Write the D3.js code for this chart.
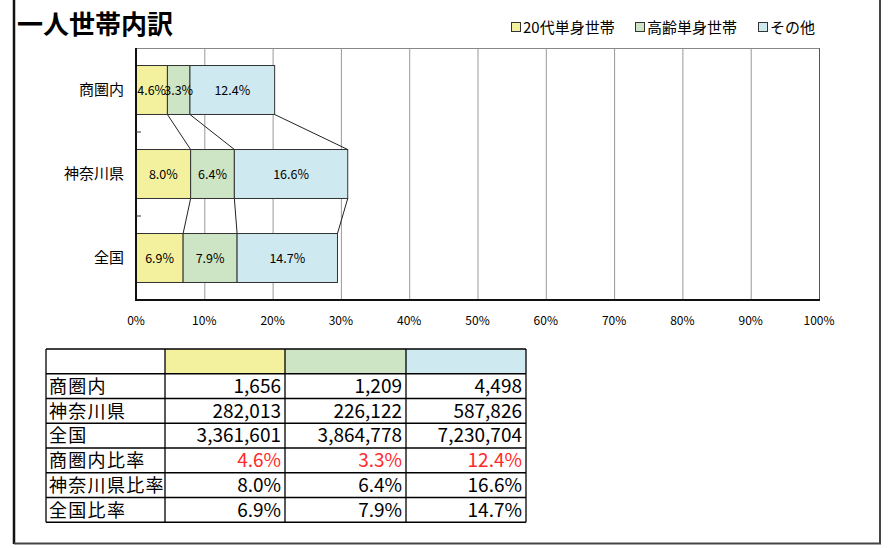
<!DOCTYPE html>
<html>
<head>
<meta charset="utf-8">
<script src="https://cdn.jsdelivr.net/npm/d3@7"></script>
<style>
  body { margin: 0; background: #fff; }
  text { font-family: "Noto Sans CJK JP", "Noto Sans", sans-serif; }
</style>
</head>
<body>
<div id="chart"></div>
<script>
const categories = ["商圏内", "神奈川県", "全国"];
const seriesNames = ["20代単身世帯", "高齢単身世帯", "その他"];
const seriesColors = ["#f3f19e", "#cde5c5", "#cfe9f0"];
const young = [4.6, 8.0, 6.9];
const elderly = [3.3, 6.4, 7.9];
const other = [12.4, 16.6, 14.7];
const xTicks = [0, 10, 20, 30, 40, 50, 60, 70, 80, 90, 100];

const countsArea = [1656, 1209, 4498];
const countsPref = [282013, 226122, 587826];
const countsNation = [3361601, 3864778, 7230704];
const tableLabels = ["商圏内", "神奈川県", "全国", "商圏内比率", "神奈川県比率", "全国比率"];

const width = 892, height = 548;
const svg = d3.select("#chart").append("svg")
  .attr("width", width)
  .attr("height", height);

svg.append("rect").attr("width", width).attr("height", height).attr("fill", "#fff");

// frame
svg.append("line").attr("x1", 14).attr("x2", 14).attr("y1", 0).attr("y2", 544)
  .attr("stroke", "#111").attr("stroke-width", 2.5);
svg.append("path").attr("d", "M14,543.5H880V0")
  .attr("fill", "none").attr("stroke", "#444").attr("stroke-width", 2);

// title
svg.append("text").attr("x", 17).attr("y", 34)
  .attr("font-size", 26).attr("font-weight", "bold")
  .text("一人世帯内訳");

// legend
const legendX = [511, 635, 758];
seriesNames.forEach((name, i) => {
  const g = svg.append("g").attr("transform", `translate(${legendX[i]},27)`);
  g.append("rect").attr("x", 0.5).attr("y", -4.5).attr("width", 9).attr("height", 9)
    .attr("fill", seriesColors[i]).attr("stroke", "#333").attr("stroke-width", 1);
  g.append("text").attr("x", 12).attr("y", 5.5).attr("font-size", 15).text(name);
});

// plot
const x = d3.scaleLinear().domain([0, 100]).range([136, 819]);
const y = d3.scaleBand().domain(categories).range([48, 300])
  .paddingInner(0.417).paddingOuter(0.2085);

const series = [young, elderly, other];
const stacked = categories.map((c, i) => {
  let acc = 0;
  return series.map((s, k) => {
    const seg = { cat: c, k: k, v: s[i], x0: acc, x1: acc + s[i] };
    acc += s[i];
    return seg;
  });
});

// gridlines
svg.append("g").selectAll("line").data(xTicks.slice(1)).join("line")
  .attr("x1", d => x(d) + 0.5).attr("x2", d => x(d) + 0.5)
  .attr("y1", 48).attr("y2", 300)
  .attr("stroke", d => d === 100 ? "#555" : "#999").attr("stroke-width", 1);
svg.append("line").attr("x1", 136).attr("x2", x(100) + 0.5).attr("y1", 48.5).attr("y2", 48.5)
  .attr("stroke", "#888").attr("stroke-width", 1);

// connector lines
const connectors = [];
for (let i = 0; i < categories.length - 1; i++) {
  for (let k = 0; k < series.length; k++) {
    connectors.push({
      xa: stacked[i][k].x1, ya: y(categories[i]) + y.bandwidth(),
      xb: stacked[i + 1][k].x1, yb: y(categories[i + 1])
    });
  }
}
svg.append("g").selectAll("line").data(connectors).join("line")
  .attr("x1", d => x(d.xa)).attr("y1", d => d.ya)
  .attr("x2", d => x(d.xb)).attr("y2", d => d.yb)
  .attr("stroke", "#222").attr("stroke-width", 1);

// bars
const segs = stacked.flat();
svg.append("g").selectAll("rect").data(segs).join("rect")
  .attr("x", d => x(d.x0))
  .attr("y", d => y(d.cat))
  .attr("width", d => x(d.x1) - x(d.x0))
  .attr("height", y.bandwidth())
  .attr("fill", d => seriesColors[d.k])
  .attr("stroke", "#333").attr("stroke-width", 1);

svg.append("g").selectAll("text").data(segs).join("text")
  .attr("x", d => (x(d.x0) + x(d.x1)) / 2)
  .attr("y", d => y(d.cat) + y.bandwidth() / 2 + 4.5)
  .attr("text-anchor", "middle").attr("font-size", 12.5)
  .text(d => d.v.toFixed(1) + "%");

// category labels
svg.append("g").selectAll("text").data(categories).join("text")
  .attr("x", 124).attr("y", d => y(d) + y.bandwidth() / 2 + 5)
  .attr("text-anchor", "end").attr("font-size", 15)
  .text(d => d);

// left axis
svg.append("line").attr("x1", 136).attr("x2", 136).attr("y1", 48).attr("y2", 301)
  .attr("stroke", "#111").attr("stroke-width", 2);
const boundaries = categories.slice(1).map(c => y(c) - y.step() * y.paddingInner() / 2);
svg.append("g").selectAll("line").data(boundaries).join("line")
  .attr("x1", 136).attr("x2", 141).attr("y1", d => d).attr("y2", d => d)
  .attr("stroke", "#333").attr("stroke-width", 1);

// bottom axis
svg.append("line").attr("x1", 135).attr("x2", x(100) + 1).attr("y1", 300).attr("y2", 300)
  .attr("stroke", "#111").attr("stroke-width", 2);
svg.append("g").selectAll("text").data(xTicks).join("text")
  .attr("x", d => x(d)).attr("y", 325)
  .attr("text-anchor", "middle").attr("font-size", 12)
  .text(d => d + "%");

// table
const colX = [46, 165, 285, 406, 526];
const rowY = d3.range(8).map(i => 349 + i * 24.75);
const fmt = d3.format(",");
const pct = v => v.toFixed(1) + "%";
const tableData = [
  countsArea.map(fmt), countsPref.map(fmt), countsNation.map(fmt),
  series.map(s => pct(s[0])),
  series.map(s => pct(s[1])),
  series.map(s => pct(s[2]))
];
const tbl = svg.append("g");
seriesColors.forEach((c, i) => {
  tbl.append("rect").attr("x", colX[i + 1]).attr("y", rowY[0])
    .attr("width", colX[i + 2] - colX[i + 1]).attr("height", rowY[1] - rowY[0])
    .attr("fill", c);
});
tbl.selectAll(".hline").data(rowY).join("line").attr("class", "hline")
  .attr("x1", colX[0]).attr("x2", colX[4]).attr("y1", d => d).attr("y2", d => d)
  .attr("stroke", "#000").attr("stroke-width", 1.3);
tbl.selectAll(".vline").data(colX).join("line").attr("class", "vline")
  .attr("x1", d => d).attr("x2", d => d).attr("y1", rowY[0]).attr("y2", rowY[7])
  .attr("stroke", "#000").attr("stroke-width", 1.3);

tableLabels.forEach((lab, r) => {
  const cy = rowY[r + 1] + 19;
  tbl.append("text").attr("x", 49).attr("y", cy)
    .attr("font-size", 18).attr("letter-spacing", 1.3).text(lab);
  tableData[r].forEach((val, c) => {
    tbl.append("text").attr("x", colX[c + 2] - 4).attr("y", cy)
      .attr("text-anchor", "end").attr("font-size", 19)
      .attr("font-family", "'Liberation Sans', sans-serif")
      .attr("fill", r === 3 ? "#ff2a2a" : "#000")
      .text(val);
  });
});
</script>
</body>
</html>
